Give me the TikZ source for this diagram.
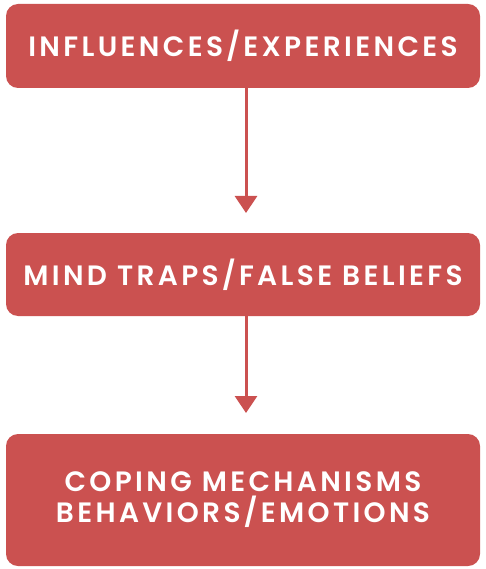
\documentclass[tikz,border=0pt]{standalone}
\usepackage{fontspec}
\newfontfamily\boxfont{Poppins SemiBold}[LetterSpace=12]
\usetikzlibrary{arrows.meta}
\definecolor{boxred}{HTML}{CB5150}
\begin{document}
\begin{tikzpicture}[x=1pt,y=-1pt,
  box/.style={fill=boxred,rounded corners=12pt,inner sep=0pt,minimum width=474pt,text=white,font=\boxfont\fontsize{28}{31}\selectfont,align=center},
  conn/.style={draw=boxred,line width=3pt,-{Triangle[width=22pt,length=17pt]}}]
\useasboundingbox (0,0) rectangle (485,569);
\node[box,minimum height=84pt] (b1) at (243,46) {INFLUENCES/EXPERIENCES};
\node[box,minimum height=83pt] (b2) at (243,274.5) {MIND TRAPS/FALSE BELIEFS};
\node[box,minimum height=132pt] (b3) at (243,500) {COPING MECHANISMS\\BEHAVIORS/EMOTIONS};
\coordinate (t1) at (246,213);
\coordinate (t2) at (246,413);
\draw[conn] (b1.south -| t1) -- (t1);
\draw[conn] (b2.south -| t2) -- (t2);
\end{tikzpicture}
\end{document}
